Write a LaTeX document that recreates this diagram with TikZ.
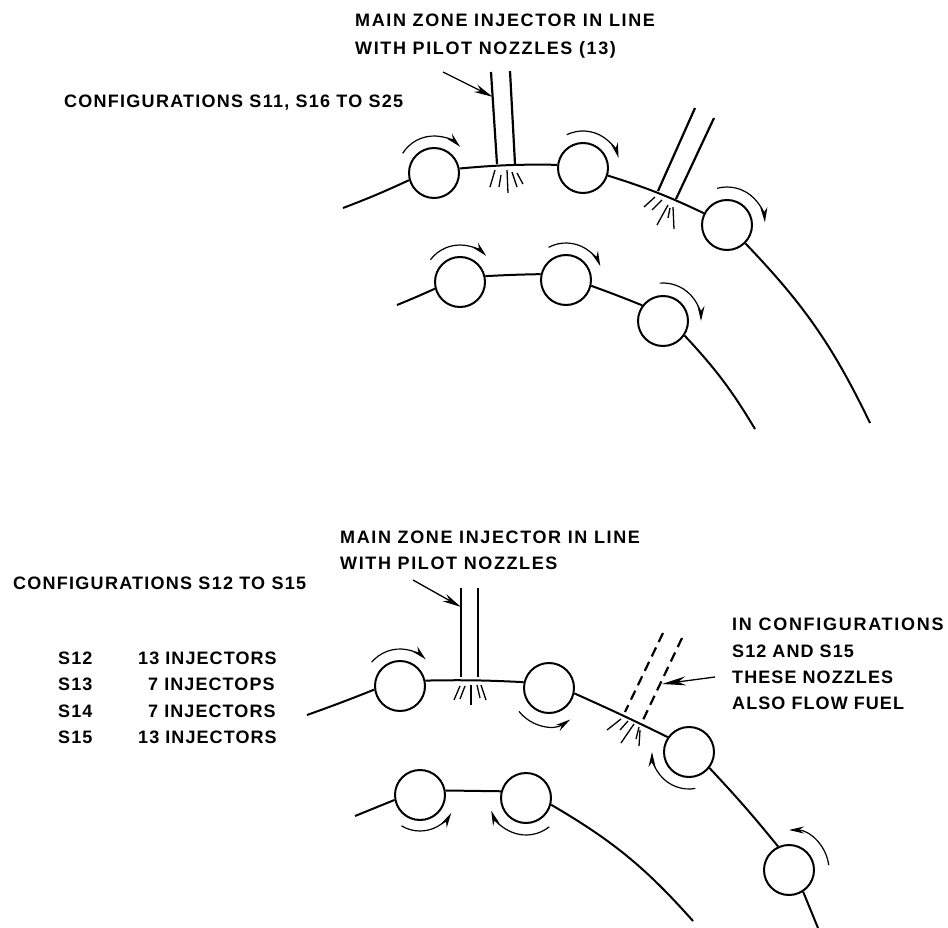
\documentclass[tikz,border=0pt]{standalone}
\usepackage{fontspec}
\setmainfont{Liberation Sans}[LetterSpace=6]
\usetikzlibrary{arrows.meta,calc}
\tikzset{
  roller/.style={circle,draw,line width=2pt,minimum size=50pt,inner sep=0pt},
  ring/.style={line width=2pt},
  tube/.style={line width=2.2pt},
  dashtube/.style={line width=2.2pt,dash pattern=on 10pt off 6pt},
  spray/.style={line width=1.3pt},
  swirl/.style={line width=1.2pt,-{Stealth[length=15pt,width=7pt]}},
  leader/.style={line width=1.3pt,-{Stealth[length=19pt,width=8pt]}},
  lab/.style={font=\bfseries\fontsize{18}{28}\selectfont,anchor=west,inner sep=0pt,align=left},
  labwide/.style={lab,font=\bfseries\fontsize{18}{28}\selectfont\addfontfeature{LetterSpace=9}},
  labmid/.style={lab,font=\bfseries\fontsize{18}{28}\selectfont\addfontfeature{LetterSpace=7}},
}
\newcommand{\swirlarc}[4]{\draw[swirl] ($(#1)+(#2:#4)$) arc[start angle=#2,end angle=#3,radius=#4];}
\begin{document}
\begin{tikzpicture}[x=1pt,y=1pt]
\useasboundingbox (0,0) rectangle (948,-928);
% upper figure
\node[roller] (a1) at (434,-173) {};
\node[roller] (a2) at (583,-168) {};
\node[roller] (a3) at (727,-225) {};
\node[roller] (b1) at (460,-282) {};
\node[roller] (b2) at (566,-280) {};
\node[roller] (b3) at (663,-321) {};
\coordinate (ae) at (343,-208);
\coordinate (af) at (870,-423);
\coordinate (be) at (397,-305);
\coordinate (bf) at (755,-429);
\draw[ring] (ae) to[bend right=2] (a1.196);
\draw[ring] (a1.10) to[bend left=3] (a2.173);
\draw[ring] (a2.-17) to[bend left=4] (a3.153);
\draw[ring] (a3.-45) to[bend left=9] (af);
\draw[ring] (be) to[bend right=1] (b1.195);
\draw[ring] (b1.13) to[bend left=1] (b2.167);
\draw[ring] (b2.-13) to[bend left=1] (b3.143);
\draw[ring] (b3.-34) to[bend left=6] (bf);
\coordinate (n1a) at (491,-72); \coordinate (n1b) at (497,-164);
\coordinate (n2a) at (510,-71); \coordinate (n2b) at (515,-164);
\coordinate (n3a) at (695,-108); \coordinate (n3b) at (658,-191);
\coordinate (n4a) at (714,-118); \coordinate (n4b) at (676,-199);
\draw[tube] (n1a)--(n1b);
\draw[tube] (n2a)--(n2b);
\draw[tube] (n3a)--(n3b);
\draw[tube] (n4a)--(n4b);
\coordinate (l1) at (443,-72);
\draw[leader] (l1)--($(n1a)!0.27!(n1b)$);
\draw[spray] (495,-170)--(490,-187);
\draw[spray] (501,-175)--(499,-187);
\draw[spray] (507,-170)--(508,-193);
\draw[spray] (512,-172)--(517,-187);
\draw[spray] (517,-173)--(523,-184);
\draw[spray] (655,-197)--(644,-207);
\draw[spray] (662,-200)--(652,-210);
\draw[spray] (668,-205)--(657,-225);
\draw[spray] (670,-208)--(668,-218);
\draw[spray] (673,-207)--(674,-229);
\swirlarc{a1}{148}{45}{37}
\swirlarc{a2}{116}{16}{37}
\swirlarc{a3}{105}{4}{38}
\swirlarc{b1}{143}{45}{37}
\swirlarc{b2}{118}{22}{37}
\swirlarc{b3}{95}{0}{38}
% lower figure
\node[roller] (c1) at (400,-686) {};
\node[roller] (c2) at (549,-688) {};
\node[roller] (c3) at (689,-752) {};
\node[roller] (c4) at (789,-870) {};
\node[roller] (d1) at (420,-795) {};
\node[roller] (d2) at (526,-798) {};
\coordinate (ce) at (307,-715);
\coordinate (cf) at (818,-928);
\coordinate (de) at (355,-816);
\coordinate (df) at (693,-921);
\draw[ring] (ce) to[bend right=1] (c1.188);
\draw[ring] (c1.12) to[bend left=2] (c2.167);
\draw[ring] (c2.-12) to[bend left=1] (c3.145);
\draw[ring] (c3.-38) to[bend left=2] (c4.115);
\draw[ring] (c4.-57) -- (cf);
\draw[ring] (de) -- (d1.191);
\draw[ring] (d1.10) -- (d2.165);
\draw[ring] (d2.-15) to[bend left=9] (df);
\coordinate (p1a) at (461,-588); \coordinate (p1b) at (461,-677);
\coordinate (p2a) at (478,-588); \coordinate (p2b) at (478,-677);
\coordinate (q1a) at (663,-633); \coordinate (q1b) at (625,-712);
\coordinate (q2a) at (682,-638); \coordinate (q2b) at (643,-720);
\draw[tube] (p1a)--(p1b);
\draw[tube] (p2a)--(p2b);
\draw[dashtube] (q1a)--(q1b);
\draw[dashtube] (q2a)--(q2b);
\coordinate (l2) at (413,-580);
\draw[leader] (l2)--(461,-607);
\coordinate (l3) at (715,-677);
\draw[leader,-{Stealth[length=24pt,width=9pt]}] (l3)--(662,-684);
\draw[spray] (460,-686)--(454,-700);
\draw[spray] (465,-686)--(460,-699);
\draw[spray] (471,-685)--(471,-705);
\draw[spray] (477,-685)--(480,-698);
\draw[spray] (481,-685)--(486,-700);
\draw[spray] (621,-719)--(607,-730);
\draw[spray] (628,-721)--(620,-730);
\draw[spray] (634,-724)--(621,-743);
\draw[spray] (639,-727)--(636,-739);
\draw[spray] (640,-730)--(639,-746);
\swirlarc{c1}{140}{46}{37}
\swirlarc{c2}{-142}{-56}{38}
\swirlarc{c3}{-80}{-180}{37}
\swirlarc{c4}{7}{90}{40}
\swirlarc{d1}{-121}{-30}{36}
\swirlarc{d2}{-51}{-160}{37}
% labels
\node[labwide] (t1) at (355,-36) {MAIN ZONE INJECTOR IN LINE\\WITH PILOT NOZZLES (13)};
\node[labmid] (t2) at (64,-103) {CONFIGURATIONS S11, S16 TO S25};
\node[labwide,font=\bfseries\fontsize{18}{26}\selectfont\addfontfeature{LetterSpace=9}] (t3) at (340,-550) {MAIN ZONE INJECTOR IN LINE\\WITH PILOT NOZZLES};
\node[labmid] (t4) at (13,-583) {CONFIGURATIONS S12 TO S15};
\node[lab] (s1) at (58,-658) {S12};
\node[lab] (s2) at (58,-684) {S13};
\node[lab] (s3) at (58,-711) {S14};
\node[lab] (s4) at (58,-737) {S15};
\node[lab] (i1) at (138,-658) {13 INJECTORS};
\node[lab] (i2) at (148,-684) {7 INJECTOPS};
\node[lab] (i3) at (148,-711) {7 INJECTORS};
\node[lab] (i4) at (138,-737) {13 INJECTORS};
\node[lab,font=\bfseries\fontsize{18}{26.2}\selectfont] (t5) at (732,-664) {\addfontfeature{LetterSpace=9.5}IN CONFIGURATIONS\\S12 AND S15\\THESE NOZZLES\\ALSO FLOW FUEL};
\end{tikzpicture}
\end{document}
